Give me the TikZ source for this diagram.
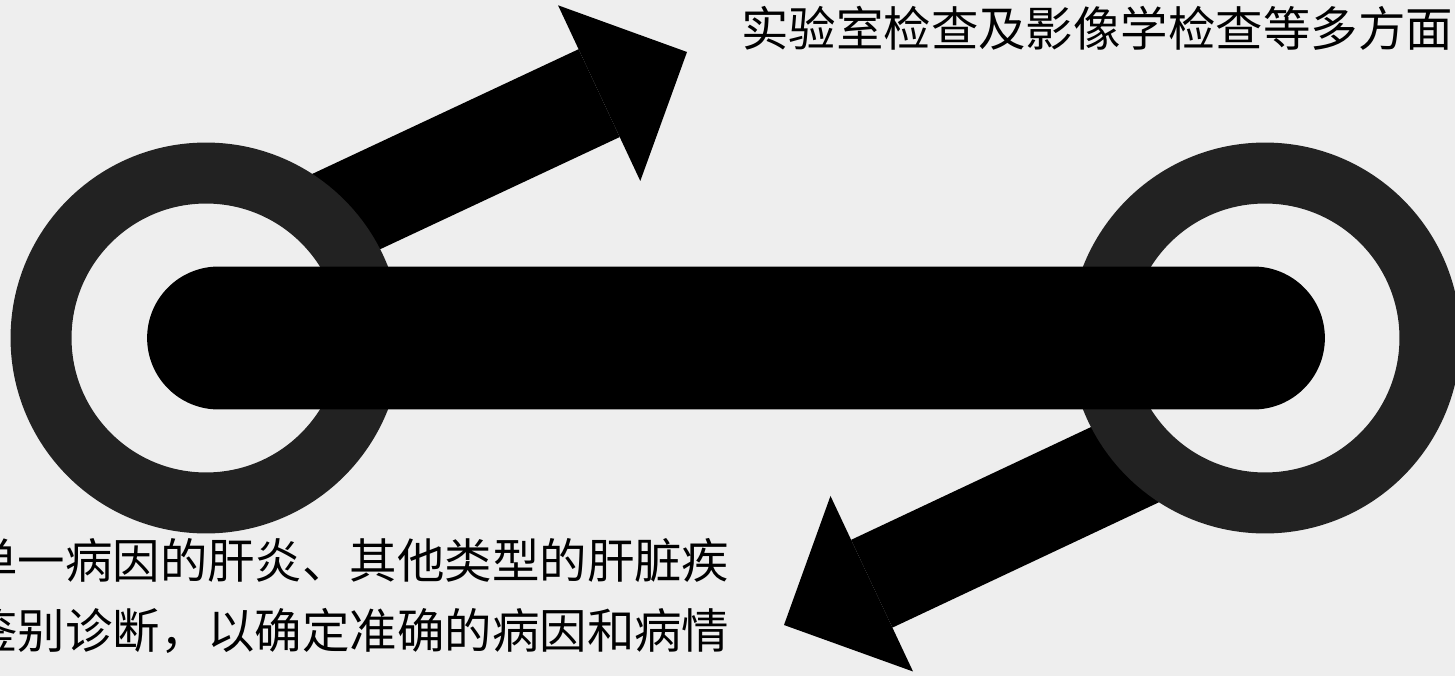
\documentclass[tikz,border=0pt]{standalone}
\usepackage{fontspec}
\newfontfamily\cjk{Noto Sans CJK SC}
\usetikzlibrary{arrows.meta,calc,backgrounds}
\definecolor{paperGray}{RGB}{238,238,238}
\definecolor{ringGray}{RGB}{34,34,34}

\begin{document}
\begin{tikzpicture}[
    x=0.02cm, y=-0.02cm,
    ringBox/.style={
        circle, draw=ringGray, line width=1.22cm, fill=paperGray,
        minimum size=6.6cm, inner sep=0pt
    },
    barBox/.style={
        rectangle, rounded corners=1.43cm, fill=black,
        minimum width=23.56cm, minimum height=2.86cm, inner sep=0pt
    },
    blockArrow/.style={
        line width=1.94cm, draw=black,
        -{Triangle[length=1.94cm, width=3.88cm, line width=0pt]}
    },
    noteTxt/.style={
        font=\cjk\fontsize{27pt}{39.7pt}\selectfont, inner sep=0pt, align=left
    }
]
\useasboundingbox (0,0) rectangle (1455,676);
\clip (0,0) rectangle (1455,676);

% Two rings joined by the bar
\node[ringBox] (leftRing) at (206,338) {};
\node[ringBox] (rightRing) at (1265,338) {};
\node[barBox] (linkBar) at (736,338) {};

% Arrow tips
\coordinate (upTip) at (687,52);
\coordinate (downTip) at (784,625);

% Paper and arrows behind the rings
\begin{scope}[on background layer]
    \fill[paperGray] (0,0) rectangle (1455,676);
    \draw[blockArrow] ($(leftRing.center)+(-23,-50)$) -- (upTip);
    \draw[blockArrow] ($(rightRing.center)+(23,50)$) -- (downTip);
\end{scope}

% Texts
\node[noteTxt, anchor=base west] (topNote) at (741,47) {实验室检查及影像学检查等多方面};
\node[noteTxt, anchor=base west] (bottomNote) at (-30,648) {单一病因的肝炎、其他类型的肝脏疾\\鉴别诊断，以确定准确的病因和病情};

\end{tikzpicture}
\end{document}
